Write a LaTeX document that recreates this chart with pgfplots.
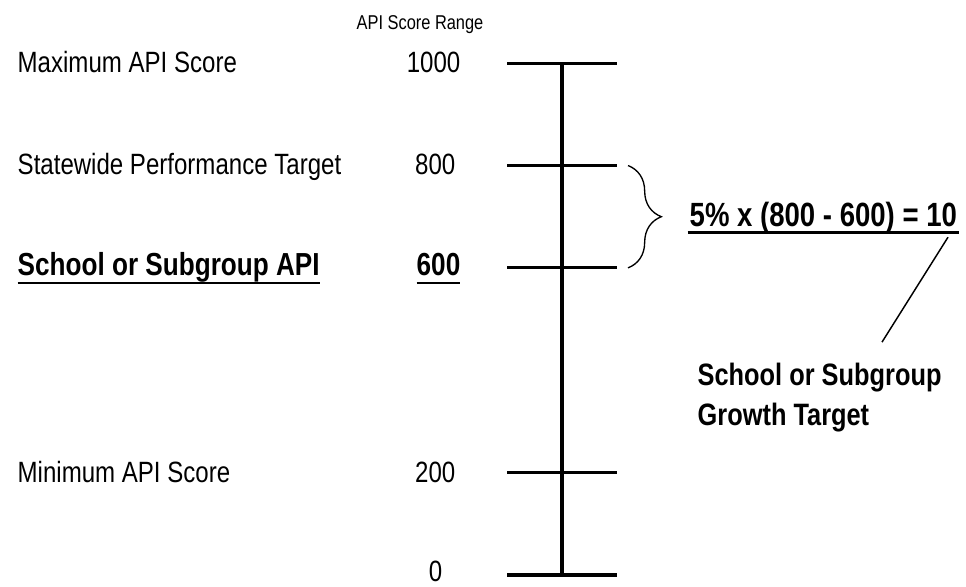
\documentclass[border=0pt]{standalone}
\usepackage{pgfplots}
\pgfplotsset{compat=1.18}
\usepackage{fontspec}
\setmainfont{Liberation Sans}[FakeStretch=0.82]
\usetikzlibrary{decorations.pathreplacing}
\newcommand{\ulA}[1]{\setbox0\hbox{#1}\makebox[0pt][l]{\rule[-7pt]{\wd0}{2.1pt}}\box0}
\newcommand{\ulB}[1]{\setbox0\hbox{#1}\makebox[0pt][l]{\hspace*{-1.5pt}\rule[-5.4pt]{\dimexpr\wd0+3pt\relax}{2.1pt}}\box0}
\begin{document}
\begin{tikzpicture}
\begin{axis}[
  width=724.5pt, height=439.5pt, scale only axis,
  xmin=0, xmax=966, ymin=-21.5, ymax=1123.4,
  hide axis, clip=false,
  every node/.append style={inner sep=0pt},
]
\coordinate (bbsw) at (rel axis cs:0,0);
\coordinate (bbne) at (rel axis cs:1,1);
% vertical scale line
\addplot[black, line width=2.4pt] coordinates {(562,0) (562,1000)};
% tick marks
\addplot[black, line width=2.4pt] coordinates {(507,1000) (617,1000)};
\addplot[black, line width=2.4pt] coordinates {(507,800) (617,800)};
\addplot[black, line width=2.4pt] coordinates {(507,600) (617,600)};
\addplot[black, line width=2.4pt] coordinates {(507,200) (617,200)};
\addplot[black, line width=2.4pt] coordinates {(507,0) (617,0)};
% leader line
\addplot[black, line width=1.1pt] coordinates {(948,660) (882,455)};

\node[anchor=base, font=\fontsize{15}{18}\selectfont] at (axis cs:420,1066) {API Score Range};
\node[anchor=base west, font=\fontsize{22}{26}\selectfont] at (axis cs:13,982) {Maximum API Score};
\node[anchor=base west, font=\fontsize{22}{26}\selectfont] at (axis cs:13,782) {Statewide Performance Target};
\node[anchor=base west, font=\fontsize{22}{26}\selectfont] at (axis cs:13,181) {Minimum API Score};
\node[anchor=base west, font=\fontsize{23.9}{28}\bfseries] at (axis cs:13,586) {\ulA{School or Subgroup API}};
\node[anchor=base east, font=\fontsize{22}{26}\selectfont] at (axis cs:465,982) {1000};
\node[anchor=base east, font=\fontsize{22}{26}\selectfont] at (axis cs:460,782) {800};
\node[anchor=base east, font=\fontsize{23.9}{28}\bfseries] at (axis cs:465,586) {\ulA{600}};
\node[anchor=base east, font=\fontsize{22}{26}\selectfont] at (axis cs:460,181) {200};
\node[anchor=base east, font=\fontsize{22}{26}\selectfont] at (axis cs:447,-12) {0};

\draw[black, line width=1pt, decorate, decoration={brace, amplitude=25pt}]
  (axis cs:628,800) -- (axis cs:628,600);
\node[anchor=base west, font=\fontsize{25.2}{30}\bfseries] at (axis cs:685,681) {\ulB{5\% x (800 - 600) = 10}};
\node[anchor=base west, font=\fontsize{23.2}{27}\bfseries] at (axis cs:693,371) {School or Subgroup};
\node[anchor=base west, font=\fontsize{23.2}{27}\bfseries] at (axis cs:693,293) {Growth Target};
\end{axis}
\pgfresetboundingbox
\path (bbsw) rectangle (bbne);
\end{tikzpicture}
\end{document}
